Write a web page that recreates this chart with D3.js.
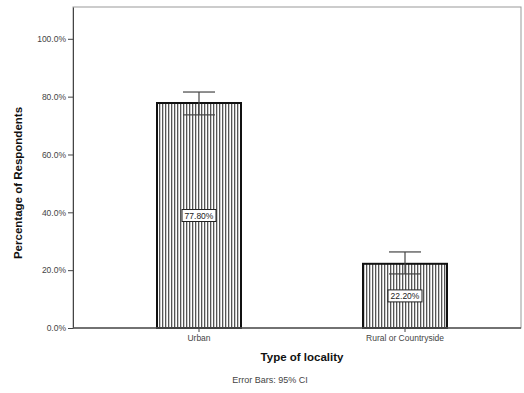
<!DOCTYPE html>
<html><head><meta charset="utf-8">
<script src="https://cdn.jsdelivr.net/npm/d3@7"></script>
<style>body{margin:0;background:#fff}svg{display:block;font-family:Arial,"Liberation Sans",sans-serif}</style>
</head><body><svg id="c" width="524" height="393"></svg>
<script>
const categories = ["Urban", "Rural or Countryside"];
const values = [77.8, 22.2];
const ciLower = [73.7, 18.7];
const ciUpper = [81.6, 26.3];
const valueLabels = ["77.80%", "22.20%"];
const yTicks = [0, 20, 40, 60, 80, 100];

const svg = d3.select("#c");
const L = 73, R = 521, T = 7, B = 328;
const x = d3.scaleBand().domain(categories).range([96, 508]);
const y = d3.scaleLinear().domain([0, 111]).range([B, T]);
const barW = 84;

const defs = svg.append("defs");
const pat = defs.append("pattern").attr("id","hatch").attr("patternUnits","userSpaceOnUse")
  .attr("width",3).attr("height",10);
pat.append("rect").attr("width",3).attr("height",10).attr("fill","#fff");
pat.append("rect").attr("x",0).attr("width",1.3).attr("height",10).attr("fill","#555");

// frame
svg.append("rect").attr("x",L).attr("y",T).attr("width",R-L).attr("height",B-T)
  .attr("fill","none").attr("stroke","#999").attr("stroke-width",1);

// y axis
const ya = svg.append("g").attr("transform",`translate(${L},0)`)
  .call(d3.axisLeft(y).tickValues(yTicks).tickSizeInner(5).tickSizeOuter(0).tickPadding(2).tickFormat(d => d.toFixed(1) + "%"));
ya.select(".domain").attr("stroke","#444");
ya.selectAll(".tick line").attr("stroke","#444");
ya.selectAll(".tick text").attr("font-size",8.5).attr("fill","#444");

// bars
const g = svg.append("g");
categories.forEach((c,i) => {
  const cx = x(c) + x.bandwidth()/2;
  g.append("rect").attr("x",cx-barW/2).attr("y",y(values[i])).attr("width",barW)
    .attr("height",y(0)-y(values[i])).attr("fill","url(#hatch)").attr("stroke","#111").attr("stroke-width",2);
});

// x axis
const xa = svg.append("g").attr("transform",`translate(0,${B})`)
  .call(d3.axisBottom(x).tickSizeInner(4).tickSizeOuter(0).tickPadding(3));
xa.select(".domain").remove();
xa.selectAll(".tick line").attr("stroke","#444");
xa.selectAll(".tick text").attr("font-size",8.5).attr("fill","#444");
svg.append("line").attr("x1",L).attr("x2",R).attr("y1",B).attr("y2",B).attr("stroke","#555").attr("stroke-width",1.5);

// error bars
categories.forEach((c,i) => {
  const cx = x(c) + x.bandwidth()/2;
  const eg = svg.append("g").attr("stroke","#444").attr("stroke-width",1.2);
  eg.append("line").attr("x1",cx).attr("x2",cx).attr("y1",y(ciUpper[i])).attr("y2",y(ciLower[i]));
  eg.append("line").attr("x1",cx-16).attr("x2",cx+16).attr("y1",y(ciUpper[i])).attr("y2",y(ciUpper[i]));
  eg.append("line").attr("x1",cx-16).attr("x2",cx+16).attr("y1",y(ciLower[i])).attr("y2",y(ciLower[i]));
  const ly = y(values[i]/2);
  svg.append("rect").attr("x",cx-17).attr("y",ly-6).attr("width",34).attr("height",12)
    .attr("fill","#fff").attr("stroke","#222").attr("stroke-width",1);
  svg.append("text").attr("x",cx).attr("y",ly+3).attr("text-anchor","middle")
    .attr("font-size",8.5).attr("fill","#222").text(valueLabels[i]);
});

// titles
svg.append("text").attr("x",302).attr("y",361).attr("text-anchor","middle")
  .attr("font-size",11.5).attr("font-weight","bold").attr("fill","#111").text("Type of locality");
svg.append("text").attr("transform","translate(22,183) rotate(-90)").attr("text-anchor","middle")
  .attr("font-size",11.5).attr("font-weight","bold").attr("fill","#111").text("Percentage of Respondents");
svg.append("text").attr("x",270).attr("y",383).attr("text-anchor","middle")
  .attr("font-size",9).attr("fill","#444").text("Error Bars: 95% CI");
</script></body></html>
